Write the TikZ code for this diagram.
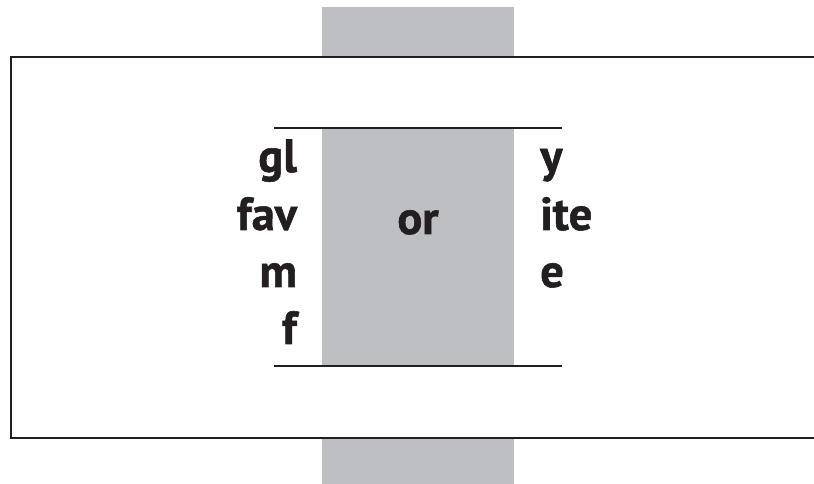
\documentclass[tikz,border=0pt]{standalone}
\usepackage{fontspec}
\setmainfont{PT Sans}[BoldFeatures={FakeBold=1.2}]
\definecolor{bandgray}{RGB}{190,191,194}
\definecolor{inkblack}{RGB}{35,31,32}
\tikzset{
    label/.style={font=\fontsize{33}{40}\selectfont\bfseries, text=inkblack, inner sep=0pt},
    rule/.style={draw=inkblack, line width=1.6pt}
}
\begin{document}
\begin{tikzpicture}
    \useasboundingbox (0,0) rectangle (20.35,12.1);
    % the band, and the frame laid over it
    \fill[bandgray] (8.05,0) rectangle (12.85,11.925);
    \fill[white] (0.275,1.15) rectangle (20.35,10.675);
    \draw[rule, line width=2.1pt] (20.35,10.675) -- (0.275,10.675) -- (0.275,1.15) -- (20.35,1.15);
    \fill[bandgray] (8.05,2.95) rectangle (12.85,8.9);
    \draw[rule] (6.85,8.9) -- (14.05,8.9);
    \draw[rule] (6.85,2.95) -- (14.05,2.95);

    \foreach \word/\y [count=\i] in {gl/7.8, fav/6.35, m/4.925, f/3.5} {
        \node[label, anchor=base east] (left\i) at (7.43,\y) {\word};
    }
    \foreach \word/\y [count=\i] in {y/7.8, ite/6.35, e/4.925} {
        \node[label, anchor=base west] (right\i) at (13.5,\y) {\word};
    }
    \node[label, anchor=base] (mid) at (10.45,6.25) {or};
\end{tikzpicture}
\end{document}
